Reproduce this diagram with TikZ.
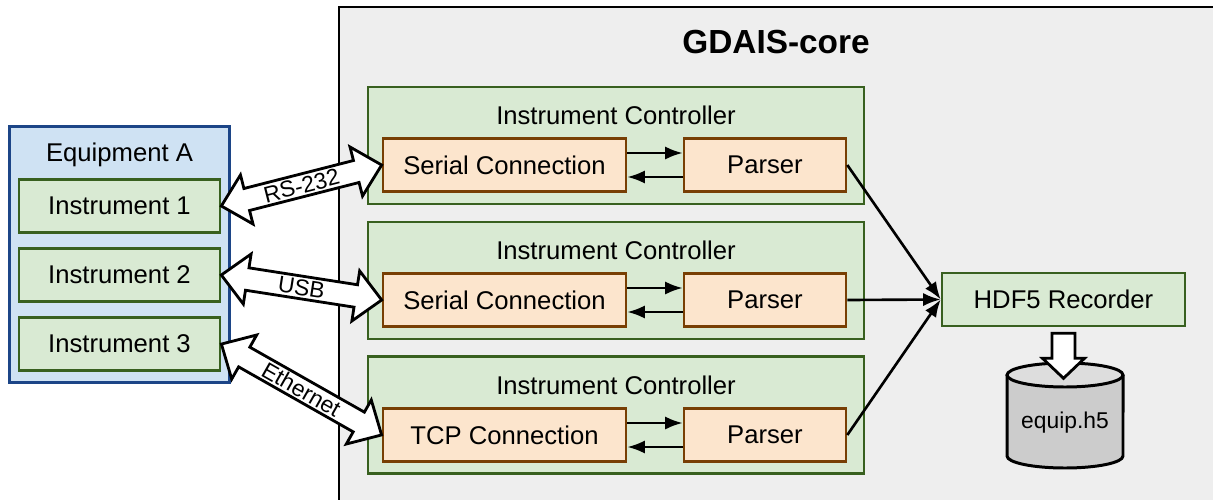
\documentclass[tikz,border=0pt]{standalone}
\usepackage{fontspec}
\setmainfont{Liberation Sans}
\usetikzlibrary{shapes.arrows,calc,arrows.meta}

\definecolor{corefill}{HTML}{EEEEEE}
\definecolor{equipfill}{HTML}{CFE2F3}
\definecolor{equipdraw}{HTML}{1C4587}
\definecolor{greenfill}{HTML}{D9EAD3}
\definecolor{greendraw}{HTML}{38601F}
\definecolor{orangefill}{HTML}{FCE5CD}
\definecolor{orangedraw}{HTML}{783F04}
\definecolor{cylbody}{HTML}{CCCCCC}
\definecolor{cyltop}{HTML}{DDDDDD}

\tikzset{
  txt/.style={font=\fontsize{14.6}{17}\selectfont},
  box/.style={draw, line width=1.5pt, inner sep=0pt, txt},
  greenbox/.style={box, fill=greenfill, draw=greendraw},
  orangebox/.style={box, fill=orangefill, draw=orangedraw,
    minimum height=1.06cm},
  flow/.style={line width=1.5pt, -{Latex[length=10pt,width=7.5pt]}},
  link/.style={double arrow, draw=black, fill=white, line width=1.6pt,
    font=\fontsize{13}{15}\selectfont, text height=9.3pt, text depth=0pt,
    inner ysep=1pt, inner xsep=0pt, double arrow head extend=0.28cm,
    double arrow tip angle=88},
}

\begin{document}
\begin{tikzpicture}[x=0.02cm,y=-0.02cm]
\useasboundingbox (0,0) rectangle (1213,500);

% core frame, running off the right and bottom edges
\begin{scope}
  \clip (0,0) rectangle (1213,500);
  \draw[fill=corefill, line width=1.5pt] (339,7) rectangle (1240,530);
\end{scope}
\node[font=\fontsize{19}{22}\selectfont\bfseries] (coretitle) at (776,42) {GDAIS-core};

% equipment with its instruments
\node[box, fill=equipfill, draw=equipdraw, line width=1.7pt,
      minimum width=4.42cm, minimum height=5.14cm] (equip) at (119.5,254.5) {};
\node[txt] (equiplbl) at (119.5,155) {Equipment A};
\node[greenbox, minimum width=4.02cm, minimum height=1.06cm] (i1) at (119.5,206) {Instrument 1};
\node[greenbox, minimum width=4.02cm, minimum height=1.06cm] (i2) at (119.5,275) {Instrument 2};
\node[greenbox, minimum width=4.02cm, minimum height=1.06cm] (i3) at (119.5,344) {Instrument 3};

% instrument controllers
\foreach \n/\y in {1/145.5, 2/280.5, 3/415}{
  \node[greenbox, minimum width=9.92cm, minimum height=2.34cm] (ic\n) at (616,\y) {};
  \node[txt] (iclbl\n) at (616,\y-30) {Instrument Controller};
}

\node[orangebox, minimum width=4.86cm] (sc1) at (504.5,165) {Serial Connection};
\node[orangebox, minimum width=4.86cm] (sc2) at (504.5,300) {Serial Connection};
\node[orangebox, minimum width=4.86cm] (sc3) at (504.5,435) {TCP Connection};
\node[orangebox, minimum width=3.24cm] (p1) at (765,165) {Parser};
\node[orangebox, minimum width=3.24cm] (p2) at (765,300) {Parser};
\node[orangebox, minimum width=3.24cm] (p3) at (765,435) {Parser};

\foreach \n in {1,2,3}{
  \draw[flow] ($(sc\n.east)+(0,-12)$) -- ($(p\n.west)+(0,-12)$);
  \draw[flow] ($(p\n.west)+(0,12)$) -- ($(sc\n.east)+(0,12)$);
}

% recorder and its file
\node[greenbox, minimum width=4.86cm, minimum height=1.06cm] (rec) at (1063.5,299.5) {HDF5 Recorder};
\foreach \n in {1,2,3}{
  \draw[flow] (p\n.east) -- (rec.west);
}

\fill[cylbody] (1007,456) arc[start angle=180, end angle=360, x radius=1.16cm, y radius=0.24cm]
  -- (1123,375) -- (1007,375) -- cycle;
\draw[line width=1.7pt] (1007,375) -- (1007,456)
  arc[start angle=180, end angle=360, x radius=1.16cm, y radius=0.24cm] -- (1123,375);
\draw[fill=cyltop, line width=1.7pt] (1065,375) ellipse[x radius=1.16cm, y radius=0.24cm];
\node[font=\fontsize{13}{15}\selectfont] (store) at (1065,423) {equip.h5};

\coordinate (ha) at ($(rec.south)+(0,6)$);
\draw[fill=white, line width=1.6pt, line join=miter] ($(ha)+(-11.5,0)$) -- ++(0,25) -- ++(-9.5,0)
  -- ($(ha)+(0,45)$) -- ($(ha)+(21,25)$) -- ++(-9.5,0) -- ($(ha)+(11.5,0)$) -- cycle;

% physical links
\path let \p1=(i1.east), \p2=(sc1.west), \n1={atan2(\y2-\y1,\x2-\x1)}, \n2={veclen(\x2-\x1,\y2-\y1)} in
  node[link, rotate=\n1, minimum height=\n2] (l1) at ($(i1.east)!0.5!(sc1.west)$) {RS-232};
\path let \p1=(i2.east), \p2=(sc2.west), \n1={atan2(\y2-\y1,\x2-\x1)}, \n2={veclen(\x2-\x1,\y2-\y1)} in
  node[link, rotate=\n1, minimum height=\n2] (l2) at ($(i2.east)!0.5!(sc2.west)$) {USB};
\path let \p1=(i3.east), \p2=(sc3.west), \n1={atan2(\y2-\y1,\x2-\x1)}, \n2={veclen(\x2-\x1,\y2-\y1)} in
  node[link, rotate=\n1, minimum height=\n2] (l3) at ($(i3.east)!0.5!(sc3.west)$) {Ethernet};
\end{tikzpicture}
\end{document}
